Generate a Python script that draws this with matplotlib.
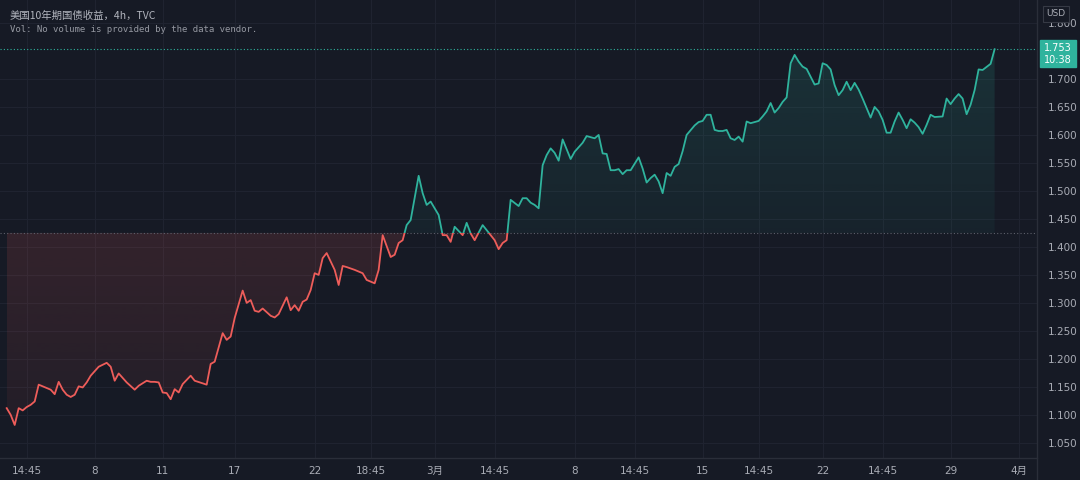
import numpy as np
import matplotlib
matplotlib.use('Agg')
import matplotlib.pyplot as plt
from matplotlib.path import Path
from matplotlib.patches import Rectangle
from matplotlib.lines import Line2D

plt.rcParams['font.family'] = ['DejaVu Sans', 'Noto Sans CJK SC']

# 4h bars, position on the time axis (weekends skipped)
bar = [0, 1, 2, 3, 4, 5, 6, 7, 8, 10, 11, 12, 13, 14, 15, 16, 17, 18, 19, 20,
       21, 23, 25, 26, 27, 28, 29, 30, 32, 33, 35, 36, 37, 38, 39, 40, 41, 42, 43, 44,
       46, 47, 50, 51, 52, 54, 55, 56, 57, 59, 60, 61, 62, 63, 64, 66, 67, 68, 70, 71,
       72, 73, 74, 75, 76, 77, 78, 79, 80, 82, 83, 84, 85, 87, 89, 90, 92, 93, 94, 96,
       97, 98, 99, 100, 101, 103, 104, 105, 106, 107, 108, 109, 110, 111, 112, 114, 115, 116, 117, 119,
       120, 122, 123, 124, 125, 126, 128, 129, 130, 131, 132, 133, 134, 135, 136, 137, 138, 139, 141, 142,
       144, 145, 146, 147, 148, 149, 150, 151, 152, 153, 154, 155, 156, 158, 159, 160, 161, 162, 163, 164,
       165, 166, 167, 168, 169, 170, 172, 173, 174, 175, 176, 177, 178, 179, 180, 181, 182, 183, 184, 185,
       186, 188, 189, 190, 191, 192, 193, 194, 195, 196, 197, 198, 199, 200, 202, 203, 204, 205, 206, 207,
       208, 209, 210, 211, 212, 213, 214, 216, 217, 218, 219, 220, 221, 222, 223, 224, 225, 226, 227, 228,
       229, 230, 231, 232, 234, 235, 236, 237, 238, 239, 240, 241, 242, 243, 244, 246, 247]
yld = [1.112, 1.100, 1.082, 1.112, 1.108, 1.114, 1.118, 1.124, 1.154, 1.148, 1.145, 1.137, 1.159, 1.145, 1.136, 1.132, 1.136, 1.151, 1.149, 1.158,
       1.170, 1.186, 1.193, 1.186, 1.161, 1.174, 1.166, 1.158, 1.145, 1.152, 1.161, 1.159, 1.159, 1.158, 1.140, 1.139, 1.128, 1.146, 1.140, 1.155,
       1.170, 1.161, 1.154, 1.191, 1.195, 1.246, 1.234, 1.240, 1.273, 1.322, 1.300, 1.305, 1.286, 1.284, 1.290, 1.277, 1.274, 1.280, 1.310, 1.287,
       1.296, 1.286, 1.302, 1.306, 1.323, 1.353, 1.350, 1.380, 1.389, 1.359, 1.332, 1.366, 1.364, 1.359, 1.353, 1.341, 1.335, 1.359, 1.421, 1.382,
       1.386, 1.407, 1.412, 1.439, 1.448, 1.527, 1.496, 1.475, 1.481, 1.469, 1.457, 1.421, 1.421, 1.409, 1.436, 1.421, 1.443, 1.424, 1.412, 1.439,
       1.430, 1.412, 1.396, 1.407, 1.412, 1.484, 1.473, 1.487, 1.487, 1.479, 1.475, 1.469, 1.546, 1.564, 1.576, 1.568, 1.554, 1.592, 1.557, 1.570,
       1.586, 1.598, 1.596, 1.594, 1.600, 1.567, 1.566, 1.537, 1.537, 1.539, 1.530, 1.537, 1.537, 1.560, 1.540, 1.515, 1.523, 1.529, 1.517, 1.496,
       1.532, 1.527, 1.543, 1.548, 1.571, 1.600, 1.617, 1.623, 1.625, 1.636, 1.636, 1.609, 1.607, 1.607, 1.609, 1.594, 1.591, 1.597, 1.588, 1.624,
       1.621, 1.625, 1.633, 1.642, 1.657, 1.640, 1.648, 1.659, 1.667, 1.728, 1.743, 1.731, 1.722, 1.718, 1.690, 1.692, 1.728, 1.725, 1.717, 1.689,
       1.671, 1.680, 1.695, 1.680, 1.693, 1.681, 1.665, 1.631, 1.650, 1.642, 1.627, 1.604, 1.604, 1.624, 1.640, 1.627, 1.612, 1.628, 1.622, 1.614,
       1.602, 1.618, 1.636, 1.632, 1.633, 1.665, 1.655, 1.665, 1.673, 1.665, 1.637, 1.654, 1.680, 1.717, 1.716, 1.727, 1.753]

base = 1.425
last_price = 1.753
last_time = '10:38'

tick_pos = [5, 22, 39, 57, 77, 91, 107, 122, 142, 157, 174, 188, 204, 219, 236, 253]
tick_lbl = ['14:45', '8', '11', '17', '22', '18:45', '3月', '14:45',
            '8', '14:45', '15', '14:45', '22', '14:45', '29', '4月']
price_ticks = [1.05, 1.10, 1.15, 1.20, 1.25, 1.30, 1.35, 1.40, 1.45, 1.50,
               1.55, 1.60, 1.65, 1.70, 1.80]

bg = '#161a25'
grid_c = '#1f2330'
txt_c = '#a9acb5'
teal = '#2fb39d'
red = '#ee5d5a'

W, H = 1080, 480
fig = plt.figure(figsize=(W / 100, H / 100), dpi=100, facecolor=bg)
ax = fig.add_axes([0, 22 / H, 1037 / W, 1 - 22 / H])
ax.set_facecolor(bg)

x = np.array(bar, dtype=float)
y = np.array(yld)


def grad_fill(where, rgb, y_lo, y_hi, a_lo, a_hi):
    poly = ax.fill_between(x, y, base, where=where, interpolate=True,
                           facecolor='none', edgecolor='none')
    path = Path.make_compound_path(*poly.get_paths())
    img = np.zeros((256, 1, 4))
    img[:, 0, :3] = matplotlib.colors.to_rgb(rgb)
    img[:, 0, 3] = np.linspace(a_lo, a_hi, 256)
    im = ax.imshow(img, extent=[x.min(), x.max(), y_lo, y_hi], origin='lower',
                   aspect='auto', zorder=1, interpolation='bilinear')
    im.set_clip_path(path, ax.transData)


grad_fill(y >= base, teal, base, y.max(), 0.06, 0.16)
grad_fill(y <= base, red, y.min(), base, 0.06, 0.14)

up, = ax.plot(x, y, color=teal, lw=1.3, zorder=3)
up.set_clip_path(Rectangle((-20, base), 400, 2, transform=ax.transData))
dn, = ax.plot(x, y, color=red, lw=1.3, zorder=3)
dn.set_clip_path(Rectangle((-20, 0), 400, base, transform=ax.transData))

ax.axhline(base, color='#5d606b', lw=0.8, ls=(0, (1, 2)), zorder=2)
ax.axhline(last_price, color=teal, lw=0.8, ls=(0, (1, 2)), zorder=2)

ax.set_xlim(-1.675, 257.6)
ax.set_ylim(1.023, 1.841)
ax.set_xticks(tick_pos, tick_lbl)
ax.set_yticks(price_ticks, ['%.3f' % p for p in price_ticks])
ax.grid(True, color=grid_c, lw=0.8)
ax.set_axisbelow(True)
ax.tick_params(axis='x', length=0, pad=6, labelsize=7.5, colors=txt_c)
ax.tick_params(axis='y', length=0, pad=8, labelsize=7.5, colors=txt_c,
               left=False, labelleft=False, right=True, labelright=True)
for s in ax.spines.values():
    s.set_visible(False)

# scale separators
fig.add_artist(Line2D([1037 / W, 1037 / W], [0, 1], color='#2a2e39', lw=1))
fig.add_artist(Line2D([0, 1037 / W], [22 / H, 22 / H], color='#2a2e39', lw=1))

# last price label
fig.add_artist(Rectangle((1040 / W, 1 - 67 / H), 36 / W, 27 / H,
                         transform=fig.transFigure, color=teal, zorder=5))
fig.text(1058 / W, 1 - 48 / H, '%.3f' % last_price, color='white', fontsize=7,
         ha='center', va='center', zorder=6)
fig.text(1058 / W, 1 - 60 / H, last_time, color='white', fontsize=7,
         ha='center', va='center', zorder=6)

fig.text(1056 / W, 1 - 14 / H, 'USD', color=txt_c, fontsize=6.5, ha='center', va='center',
         zorder=6, bbox=dict(boxstyle='square,pad=0.35', fc=bg, ec='#363a45', lw=0.8))

fig.text(10 / W, 1 - 16 / H, '美国10年期国债收益，4h，TVC', color='#b2b5be', fontsize=7.5,
         family=['Noto Sans CJK SC', 'DejaVu Sans'], va='center')
fig.text(10 / W, 1 - 30 / H, 'Vol: No volume is provided by the data vendor.',
         color='#9598a1', fontsize=6.5, family='DejaVu Sans Mono', va='center')

fig.savefig('out.png', dpi=100, facecolor=bg)
